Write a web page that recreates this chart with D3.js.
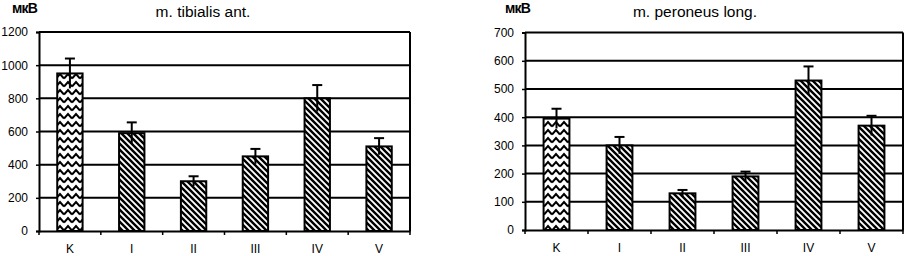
<!DOCTYPE html>
<html><head><meta charset="utf-8">
<script src="https://cdn.jsdelivr.net/npm/d3@7"></script>
<style>body{margin:0;background:#fff}svg{display:block}</style>
</head><body>
<svg id="c" width="905" height="256"></svg>
<script>
const categories = ["K","I","II","III","IV","V"];
const tibialisValues = [950, 590, 300, 450, 800, 510];
const tibialisErrors = [90, 65, 30, 45, 80, 50];
const tibialisTicks = [0, 200, 400, 600, 800, 1000, 1200];
const peroneusValues = [395, 300, 130, 190, 530, 370];
const peroneusErrors = [35, 30, 12, 17, 50, 35];
const peroneusTicks = [0, 100, 200, 300, 400, 500, 600, 700];
const titles = ["m. tibialis ant.", "m. peroneus long."];
const unit = "мкВ";

const svg = d3.select("#c");
const defs = svg.append("defs");
const zz = defs.append("pattern").attr("id","zig").attr("patternUnits","userSpaceOnUse")
  .attr("width",8).attr("height",8);
zz.append("rect").attr("width",8).attr("height",8).attr("fill","#fff");
zz.append("path").attr("d","M0,6.5 L4,2 L8,6.5").attr("fill","none").attr("stroke","#000").attr("stroke-width",2);
const st = defs.append("pattern").attr("id","diag").attr("patternUnits","userSpaceOnUse")
  .attr("width",6).attr("height",6);
st.append("rect").attr("width",6).attr("height",6).attr("fill","#fff");
st.append("path").attr("d","M0,0 L6,6 M-3,3 L3,9 M3,-3 L9,3").attr("stroke","#000").attr("stroke-width",2.4);

function drawChart(cfg){
  const {x0,x1,y0,y1,values,errors,ticks,title,titleX,unitX} = cfg;
  const g = svg.append("g");
  const x = d3.scaleBand().domain(categories).range([x0,x1]).paddingInner(0).paddingOuter(0);
  const y = d3.scaleLinear().domain([0, d3.max(ticks)]).range([y0,y1]);
  g.selectAll(".grid").data(ticks.slice(1)).join("line")
    .attr("x1",x0).attr("x2",x1).attr("y1",d=>y(d)).attr("y2",d=>y(d))
    .attr("stroke","#000").attr("stroke-width",2);
  g.append("line").attr("x1",x1).attr("x2",x1).attr("y1",y1).attr("y2",y0)
    .attr("stroke","#000").attr("stroke-width",2);
  const ya = g.append("g").attr("transform",`translate(${x0},0)`)
    .call(d3.axisLeft(y).tickValues(ticks).tickSize(3).tickPadding(8).tickFormat(d3.format("d")));
  ya.select(".domain").attr("stroke-width",2);
  ya.selectAll(".tick line").attr("stroke-width",1.5);
  ya.selectAll("text").attr("font-family","Liberation Sans, Arial, sans-serif").attr("font-size",12).attr("fill","#000");
  const xa = g.append("g").attr("transform",`translate(0,${y0})`)
    .call(d3.axisBottom(x).tickSize(0).tickPadding(13));
  xa.select(".domain").attr("stroke-width",2);
  xa.selectAll("text").attr("font-family","Liberation Sans, Arial, sans-serif").attr("font-size",12).attr("fill","#000");
  const bounds = categories.map(c=>x(c)).concat([x1]);
  g.selectAll(".xt").data(bounds).join("line")
    .attr("x1",d=>d).attr("x2",d=>d).attr("y1",y0).attr("y2",y0+4)
    .attr("stroke","#000").attr("stroke-width",1.5);
  const bw = x.bandwidth()*0.41;
  g.selectAll(".bar").data(values).join("rect")
    .attr("x",(d,i)=>x(categories[i])+x.bandwidth()/2-bw/2)
    .attr("width",bw)
    .attr("y",d=>y(d)).attr("height",d=>y0-y(d))
    .attr("fill",(d,i)=>i===0?"url(#zig)":"url(#diag)")
    .attr("stroke","#000").attr("stroke-width",2);
  const cx = i => x(categories[i])+x.bandwidth()/2;
  g.selectAll(".ev").data(values).join("line")
    .attr("x1",(d,i)=>cx(i)).attr("x2",(d,i)=>cx(i))
    .attr("y1",(d,i)=>y(d+errors[i])).attr("y2",(d,i)=>y(d-errors[i]))
    .attr("stroke","#000").attr("stroke-width",2);
  g.selectAll(".ec").data(values).join("line")
    .attr("x1",(d,i)=>cx(i)-5).attr("x2",(d,i)=>cx(i)+5)
    .attr("y1",(d,i)=>y(d+errors[i])).attr("y2",(d,i)=>y(d+errors[i]))
    .attr("stroke","#000").attr("stroke-width",2);
  g.append("text").attr("x",titleX).attr("y",17).attr("text-anchor","middle")
    .attr("font-family","Liberation Sans, Arial, sans-serif").attr("font-size",15.5).text(title);
  g.append("text").attr("x",unitX).attr("y",12.5)
    .attr("font-family","Liberation Sans, Arial, sans-serif").attr("font-size",14).attr("font-weight","bold").attr("letter-spacing","-0.8").text(unit);
}

drawChart({x0:39,x1:410,y0:231,y1:32,values:tibialisValues,errors:tibialisErrors,ticks:tibialisTicks,title:titles[0],titleX:203,unitX:12});
drawChart({x0:525,x1:903,y0:230,y1:32.6,values:peroneusValues,errors:peroneusErrors,ticks:peroneusTicks,title:titles[1],titleX:695,unitX:505});
</script>
</body></html>
